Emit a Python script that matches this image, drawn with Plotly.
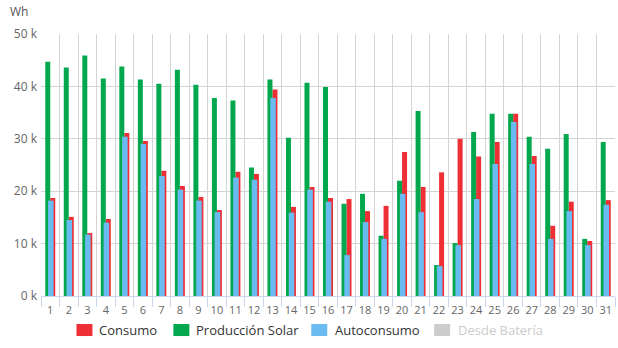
import plotly.graph_objects as go

days = list(range(1, 32))
consumo = [18.7, 15.1, 12.0, 14.7, 31.1, 29.6, 23.9, 21.0, 18.9, 16.4,
           23.7, 23.3, 39.4, 17.0, 20.8, 18.7, 18.5, 16.2, 17.2, 27.5,
           20.8, 23.6, 30.0, 26.6, 29.4, 34.8, 26.7, 13.4, 18.0, 10.5, 18.3]
produccion = [44.7, 43.6, 45.9, 41.5, 43.8, 41.3, 40.5, 43.2, 40.3, 37.8,
              37.3, 24.5, 41.3, 30.2, 40.7, 39.9, 17.6, 19.5, 11.5, 22.0,
              35.3, 5.9, 10.1, 31.3, 34.8, 34.8, 30.4, 28.1, 30.9, 10.9, 29.4]
autoconsumo = [18.2, 14.5, 11.7, 14.0, 30.4, 29.0, 22.9, 20.3, 18.2, 16.0,
               22.6, 22.2, 37.8, 15.9, 20.3, 18.0, 7.8, 14.1, 10.9, 19.5,
               16.0, 5.7, 9.7, 18.5, 25.2, 33.2, 25.2, 10.9, 16.2, 9.7, 17.4]
y_ticks = [0, 10000, 20000, 30000, 40000, 50000]
y_labels = ["0 k", "10 k", "20 k", "30 k", "40 k", "50 k"]
legend_names = ["Consumo", "Producción Solar", "Autoconsumo", "Desde Batería"]

RED = "#ee2f35"
GREEN = "#03a84e"
BLUE = "#6bbbf3"
GREY = "#cccccc"
FONT = "Open Sans"

fig = go.Figure()
fig.add_trace(go.Bar(x=days, y=[v * 1000 for v in consumo], name=legend_names[0],
                     marker=dict(color=RED, line=dict(width=0)), offset=0.0, width=0.27,
                     showlegend=False))
fig.add_trace(go.Bar(x=days, y=[v * 1000 for v in produccion], name=legend_names[1],
                     marker=dict(color=GREEN, line=dict(width=0)), offset=-0.27, width=0.27,
                     showlegend=False))
fig.add_trace(go.Bar(x=days, y=[v * 1000 for v in autoconsumo], name=legend_names[2],
                     marker=dict(color=BLUE, line=dict(width=0)), offset=-0.12, width=0.30,
                     showlegend=False))

W, H = 618, 348
L, R, T, B = 40.5, 3, 34.3, 52
pw = W - L - R
ph = H - T - B

def px(x):
    return (x - L) / pw

def py(y):
    return (H - B - y) / ph

# custom legend
legend_items = [
    (legend_names[0], RED, 76, 97, "#333333"),
    (legend_names[1], GREEN, 173, 194, "#333333"),
    (legend_names[2], BLUE, 311, 333, "#333333"),
    (legend_names[3], GREY, 434, 456, GREY),
]
shapes = []
annotations = []
for name, col, sx, tx, tcol in legend_items:
    shapes.append(dict(type="rect", xref="paper", yref="paper",
                       x0=px(sx), x1=px(sx + 16), y0=py(336), y1=py(324),
                       fillcolor=col, line=dict(width=0)))
    annotations.append(dict(text=name, xref="paper", yref="paper", x=px(tx), y=py(330),
                            xanchor="left", yanchor="middle", showarrow=False,
                            font=dict(family=FONT, size=13, color=tcol)))
annotations.append(dict(text="Wh", xref="paper", yref="paper", x=px(7), y=py(12),
                        xanchor="left", yanchor="middle", showarrow=False,
                        font=dict(family=FONT, size=12, color="#555555")))

fig.update_layout(
    width=W, height=H,
    margin=dict(l=L, r=R, t=T, b=B, pad=0),
    barmode="overlay",
    plot_bgcolor="white", paper_bgcolor="white",
    font=dict(family=FONT, color="#666666"),
    shapes=shapes, annotations=annotations,
    showlegend=False,
)
fig.update_xaxes(
    range=[0.5, 31.5], tickvals=days, ticktext=[str(d) for d in days],
    ticks="", showgrid=False, zeroline=False,
    showline=True, linecolor="#ccd6eb", linewidth=1,
    tickfont=dict(family=FONT, size=11, color="#666666"),
    ticklabelstandoff=4,
    minor=dict(tick0=0.5, dtick=1, showgrid=True, gridcolor="#d4d4d4", gridwidth=1,
               ticks="outside", ticklen=10, tickcolor="#ccd6eb"),
)
fig.update_yaxes(
    range=[0, 50000], tickvals=y_ticks, ticktext=y_labels,
    showgrid=True, gridcolor="#d4d4d4", gridwidth=1, zeroline=False,
    tickfont=dict(family=FONT, size=12, color="#666666"),
    ticks="", ticklabelstandoff=3,
)
fig.write_html("out.html")
